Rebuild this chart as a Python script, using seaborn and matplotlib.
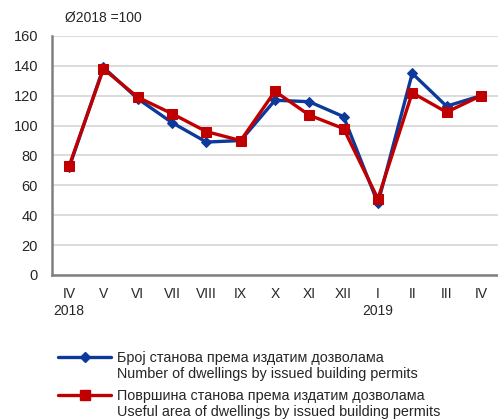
import numpy as np
import pandas as pd
import matplotlib
matplotlib.use("Agg")
import matplotlib.pyplot as plt
import seaborn as sns
from matplotlib.lines import Line2D

# data (index, 2018 average = 100)
periods = ["IV\n2018", "V", "VI", "VII", "VIII", "IX", "X", "XI", "XII",
           "I\n2019", "II", "III", "IV"]
dwellings_number = [72, 139, 118, 102, 89, 90, 117, 116, 106, 48, 135, 113, 120]
dwellings_area = [73, 138, 119, 108, 96, 90, 123, 107, 98, 51, 122, 109, 120]
label_number = ["Број станова према издатим дозволама",
                "Number of dwellings by issued building permits"]
label_area = ["Површина станова према издатим дозволама",
              "Useful area of dwellings by issued building permits"]

blue = "#0D3A9A"
red = "#C00000"

df = pd.DataFrame({
    "pos": list(range(len(periods))) * 2,
    "value": dwellings_number + dwellings_area,
    "series": ["number"] * len(periods) + ["area"] * len(periods),
})

sns.set_style("white")
plt.rcParams["font.family"] = ["Liberation Sans", "DejaVu Sans"]

fig = plt.figure(figsize=(4.98, 4.19), dpi=100)
ax = fig.add_axes([52 / 498, 1 - 275 / 419, 1 - 52 / 498, (275 - 36) / 419])

sns.lineplot(data=df[df.series == "number"], x="pos", y="value", ax=ax,
             color=blue, linewidth=2.4, marker="D", markersize=5.5,
             markeredgecolor=blue, zorder=3, legend=False)
sns.lineplot(data=df[df.series == "area"], x="pos", y="value", ax=ax,
             color=red, linewidth=2.4, marker="s", markersize=7.5,
             markeredgecolor=red, zorder=4, legend=False)

ax.set_ylim(0, 160)
ax.set_yticks(np.arange(0, 161, 20))
ax.set_xlim(-0.5, 12.19)
ax.set_xticks(range(len(periods)))
ax.set_xticklabels(periods)
ax.set_xticks(np.arange(-0.5, 13, 1), minor=True)
ax.tick_params(axis="x", which="major", length=0, pad=9, labelsize=10)
ax.tick_params(axis="x", which="minor", length=5, width=1.5, color="#808080",
               direction="out")
ax.tick_params(axis="y", length=0, labelsize=10.5, pad=10)
ax.set_xlabel("")
ax.set_ylabel("")

ax.yaxis.grid(True, color="#d9d9d9", linewidth=1.3)
ax.set_axisbelow(True)
for side in ["top", "right"]:
    ax.spines[side].set_visible(False)
for side in ["left", "bottom"]:
    ax.spines[side].set_color("#808080")
    ax.spines[side].set_linewidth(1.8)

fig.text(65 / 498, 1 - 18 / 419, "Ø2018 =100", fontsize=10, va="center", ha="left")

# legend: handle beside the first line of each two-line label
blank = Line2D([], [], linestyle="none")
handle_number = Line2D([], [], color=blue, linewidth=2.4, marker="D", markersize=5.5)
handle_area = Line2D([], [], color=red, linewidth=2.4, marker="s", markersize=7.5)
for handle, labels, top in [(handle_number, label_number, 351),
                            (handle_area, label_area, 389)]:
    fig.legend([handle, blank], labels, loc="upper left",
               bbox_to_anchor=(58 / 498, 1 - top / 419), frameon=False,
               fontsize=10.4, handlelength=3.7, handletextpad=0.35,
               borderpad=0, borderaxespad=0, labelspacing=0.15)

fig.savefig("out.png", dpi=100)
